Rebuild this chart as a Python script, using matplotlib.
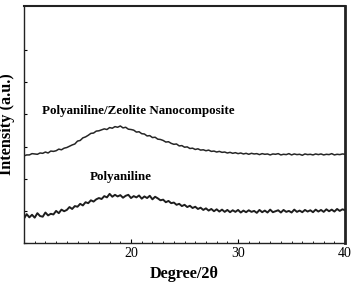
import numpy as np
import matplotlib
matplotlib.use('Agg')
import matplotlib.pyplot as plt
from matplotlib.ticker import MultipleLocator

# Intensity traces (arbitrary units, offset),
# sampled every 0.25 degree from 10 to 40 (2-theta)
composite = [2.71, 2.74, 2.74, 2.78, 2.77, 2.76, 2.80, 2.79, 2.83, 2.80,
             2.86, 2.85, 2.87, 2.92, 2.90, 2.95, 2.97, 3.01, 3.05, 3.08,
             3.17, 3.19, 3.27, 3.30, 3.35, 3.41, 3.42, 3.48, 3.49, 3.52,
             3.55, 3.53, 3.59, 3.57, 3.62, 3.60, 3.64, 3.58, 3.60, 3.54,
             3.53, 3.51, 3.45, 3.46, 3.40, 3.39, 3.33, 3.34, 3.28, 3.29,
             3.23, 3.22, 3.19, 3.14, 3.15, 3.10, 3.07, 3.08, 3.02, 3.03,
             2.98, 2.99, 2.94, 2.95, 2.91, 2.93, 2.89, 2.90, 2.87, 2.89,
             2.85, 2.86, 2.83, 2.85, 2.82, 2.83, 2.80, 2.82, 2.79, 2.81,
             2.78, 2.80, 2.77, 2.79, 2.76, 2.79, 2.77, 2.78, 2.75, 2.78,
             2.76, 2.77, 2.74, 2.77, 2.76, 2.78, 2.74, 2.76, 2.75, 2.78,
             2.74, 2.77, 2.75, 2.76, 2.73, 2.77, 2.75, 2.76, 2.74, 2.77,
             2.75, 2.77, 2.74, 2.76, 2.75, 2.78, 2.74, 2.76, 2.75, 2.77,
             2.76]
polyaniline = [0.76, 0.90, 0.80, 0.88, 0.79, 0.93, 0.84, 0.82, 0.95, 0.86,
               0.91, 0.89, 1.00, 0.93, 1.04, 0.99, 1.03, 1.12, 1.06, 1.15,
               1.13, 1.22, 1.17, 1.27, 1.24, 1.33, 1.29, 1.36, 1.40, 1.37,
               1.46, 1.42, 1.53, 1.44, 1.50, 1.45, 1.49, 1.41, 1.47, 1.50,
               1.40, 1.46, 1.42, 1.48, 1.38, 1.45, 1.40, 1.47, 1.36, 1.44,
               1.39, 1.33, 1.35, 1.27, 1.31, 1.24, 1.26, 1.19, 1.22, 1.15,
               1.19, 1.12, 1.16, 1.09, 1.13, 1.06, 1.10, 1.03, 1.08, 1.01,
               1.06, 0.99, 1.05, 0.98, 1.04, 0.97, 1.03, 0.96, 1.02, 0.97,
               1.03, 0.95, 1.01, 0.96, 1.02, 0.97, 1.00, 0.94, 1.03, 0.96,
               1.01, 0.95, 1.04, 0.96, 0.99, 1.02, 0.95, 1.03, 0.97, 1.00,
               0.95, 1.04, 0.97, 1.01, 0.96, 1.03, 0.98, 1.02, 0.96, 1.04,
               0.98, 1.03, 0.97, 1.05, 0.99, 1.04, 0.98, 1.06, 1.00, 1.05,
               1.02]

degrees = np.linspace(10.0, 40.0, len(composite))
xticks = [20, 30, 40]
yticks = [0, 1, 2, 3, 4, 5, 6]

plt.rcParams['font.family'] = ['Liberation Serif', 'DejaVu Serif']

fig = plt.figure(figsize=(3.56, 2.82), dpi=100)
ax = fig.add_axes([0.0674, 0.138, 0.902, 0.842])

ax.plot(degrees, composite, color='#262626', linewidth=1.1)
ax.plot(np.linspace(10.0, 40.0, len(polyaniline)), polyaniline,
        color='#1e1e1e', linewidth=1.4)

ax.text(20.7, 4.10, 'Polyaniline/Zeolite Nanocomposite', ha='center',
        va='center', fontsize=9.4, fontweight='bold')
ax.text(19.0, 2.05, 'Polyaniline', ha='center', va='center',
        fontsize=9.4, fontweight='bold')

ax.set_xlim(10, 40)
ax.set_ylim(0, 7.38)
ax.set_xticks(xticks)
ax.set_yticks(yticks)
ax.xaxis.set_minor_locator(MultipleLocator(1))
ax.set_yticklabels([])
ax.tick_params(axis='x', which='major', direction='in', length=3,
               labelsize=10, pad=3)
ax.tick_params(axis='x', which='minor', direction='in', length=1.5)
ax.tick_params(axis='y', direction='in', length=2)

for side, lw in [('left', 1.0), ('bottom', 1.0), ('top', 1.5),
                 ('right', 2.0)]:
    ax.spines[side].set_linewidth(lw)
    ax.spines[side].set_color('#222222')

ax.set_xlabel('Degree/2θ', fontsize=11.7, fontweight='bold', labelpad=4)
ax.set_ylabel('Intensity (a.u.)', fontsize=11.7, fontweight='bold',
              labelpad=3)

fig.savefig('out.png', dpi=100)
